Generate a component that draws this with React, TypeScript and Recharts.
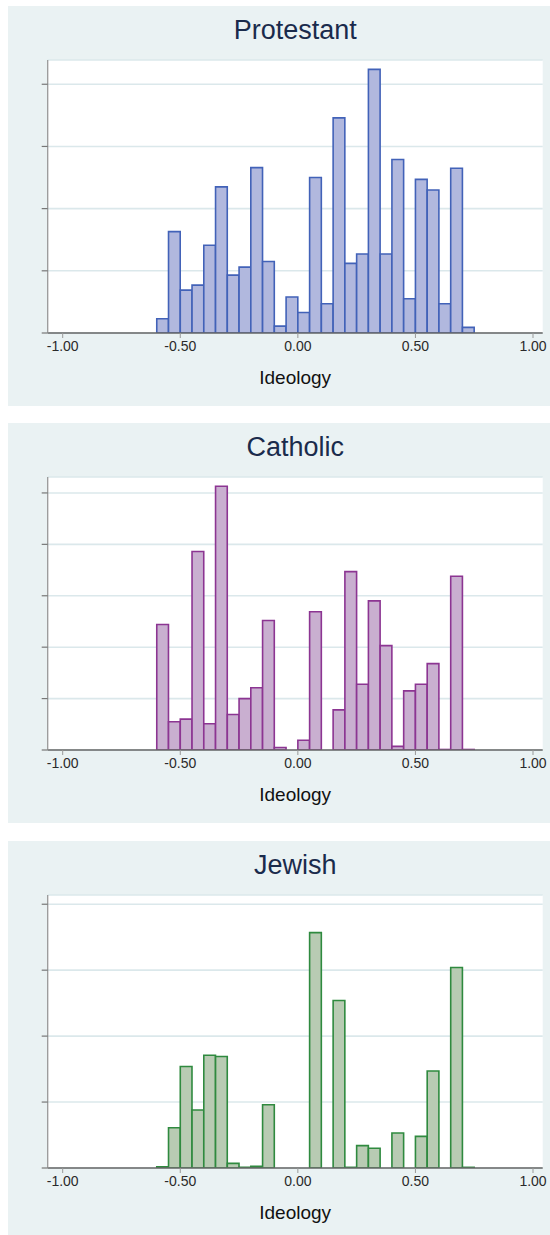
import React from "react";
import { Bar, BarChart, CartesianGrid, XAxis, YAxis } from "recharts";

// bin midpoints, width 0.05, from -0.60 to 0.75
const binCenters = [
  -0.575, -0.525, -0.475, -0.425, -0.375, -0.325, -0.275, -0.225, -0.175,
  -0.125, -0.075, -0.025, 0.025, 0.075, 0.125, 0.175, 0.225, 0.275, 0.325,
  0.375, 0.425, 0.475, 0.525, 0.575, 0.625, 0.675, 0.725,
];

const protestant = [
  0.23, 1.63, 0.69, 0.77, 1.41, 2.35, 0.93, 1.06, 2.66, 1.15, 0.11, 0.58,
  0.33, 2.5, 0.47, 3.46, 1.12, 1.27, 4.24, 1.27, 2.79, 0.55, 2.47, 2.3,
  0.47, 2.65, 0.09,
];

const catholic = [
  2.44, 0.55, 0.6, 3.86, 0.51, 5.13, 0.69, 1.0, 1.21, 2.52, 0.05, 0, 0.19,
  2.69, 0, 0.78, 3.47, 1.28, 2.9, 2.03, 0.07, 1.15, 1.28, 1.68, 0.01, 3.38,
  0.01,
];

const jewish = [
  0.02, 0.61, 1.54, 0.88, 1.71, 1.69, 0.07, 0.01, 0.025, 0.96, 0, 0, 0, 3.57,
  0, 2.54, 0.01, 0.34, 0.3, 0, 0.53, 0, 0.48, 1.47, 0, 3.04, 0.01,
];

const xTicks = [-1, -0.5, 0, 0.5, 1];
const X_DOMAIN: [number, number] = [-1.0638, 1.0412];

const BG = "#eaf2f3";
const GRID = "#dbe8eb";
const FONT = '"Liberation Sans", Arial, sans-serif';

const PANEL_W = 542;
const PANEL_H = 400;
const Y_AXIS_W = 1;
const MARGIN = { top: 54, right: 7.3, bottom: 0, left: 39.7 - Y_AXIS_W };
const PLOT_W = PANEL_W - MARGIN.left - Y_AXIS_W - MARGIN.right;
const BAR_SIZE = (0.05 * PLOT_W) / (X_DOMAIN[1] - X_DOMAIN[0]) - 0.05;

const NoLabel = () => <g />;

interface PanelProps {
  title: string;
  values: number[];
  yMax: number;
  yTicks: number[];
  fill: string;
  stroke: string;
  top: number;
}

function HistPanel({ title, values, yMax, yTicks, fill, stroke, top }: PanelProps) {
  const data = binCenters.map((x, i) => ({ x, v: values[i] }));
  return (
    <div
      style={{
        position: "absolute",
        left: 8,
        top,
        width: PANEL_W,
        height: PANEL_H,
        background: BG,
        fontFamily: FONT,
      }}
    >
      <div
        style={{
          position: "absolute",
          left: MARGIN.left + Y_AXIS_W,
          width: PLOT_W,
          top: 11,
          textAlign: "center",
          fontSize: 27,
          lineHeight: 1,
          color: "#1a2b4c",
        }}
      >
        {title}
      </div>
      <BarChart width={PANEL_W} height={PANEL_H} data={data} margin={MARGIN}>
        <CartesianGrid
          vertical={false}
          fill="#ffffff"
          stroke={GRID}
          strokeWidth={1.6}
        />
        <XAxis
          dataKey="x"
          type="number"
          domain={X_DOMAIN}
          allowDataOverflow
          ticks={xTicks}
          tickFormatter={(v: number) => v.toFixed(2)}
          height={73}
          tickSize={5}
          tickMargin={3}
          axisLine={{ stroke: "#666", strokeWidth: 1.3 }}
          tickLine={{ stroke: "#999" }}
          tick={{ fill: "#2a2a2a", fontSize: 14, fontFamily: FONT }}
          label={{
            value: "Ideology",
            position: "insideBottom",
            offset: 22,
            fill: "#111",
            fontSize: 19,
            fontFamily: FONT,
          }}
        />
        <YAxis
          type="number"
          domain={[0, yMax]}
          allowDataOverflow
          ticks={yTicks}
          width={Y_AXIS_W}
          tick={NoLabel}
          tickSize={6}
          axisLine={{ stroke: "#999", strokeWidth: 1.3 }}
          tickLine={{ stroke: "#777", strokeWidth: 1.2 }}
        />
        <Bar
          dataKey="v"
          barSize={BAR_SIZE}
          fill={fill}
          stroke={stroke}
          strokeWidth={1.6}
          isAnimationActive={false}
        />
      </BarChart>
    </div>
  );
}

export default function App() {
  return (
    <div
      style={{
        position: "absolute",
        left: 0,
        top: 0,
        width: 550,
        height: 1235,
        overflow: "hidden",
        background: "#fff",
      }}
    >
      <HistPanel
        title="Protestant"
        values={protestant}
        yMax={4.39}
        yTicks={[0, 1, 2, 3, 4]}
        fill="#b1b8de"
        stroke="#4262b8"
        top={6}
      />
      <HistPanel
        title="Catholic"
        values={catholic}
        yMax={5.31}
        yTicks={[0, 1, 2, 3, 4, 5]}
        fill="#c9afd0"
        stroke="#8c3592"
        top={423}
      />
      <HistPanel
        title="Jewish"
        values={jewish}
        yMax={4.14}
        yTicks={[0, 1, 2, 3, 4]}
        fill="#b8cbb3"
        stroke="#2f8a3f"
        top={841}
      />
    </div>
  );
}
